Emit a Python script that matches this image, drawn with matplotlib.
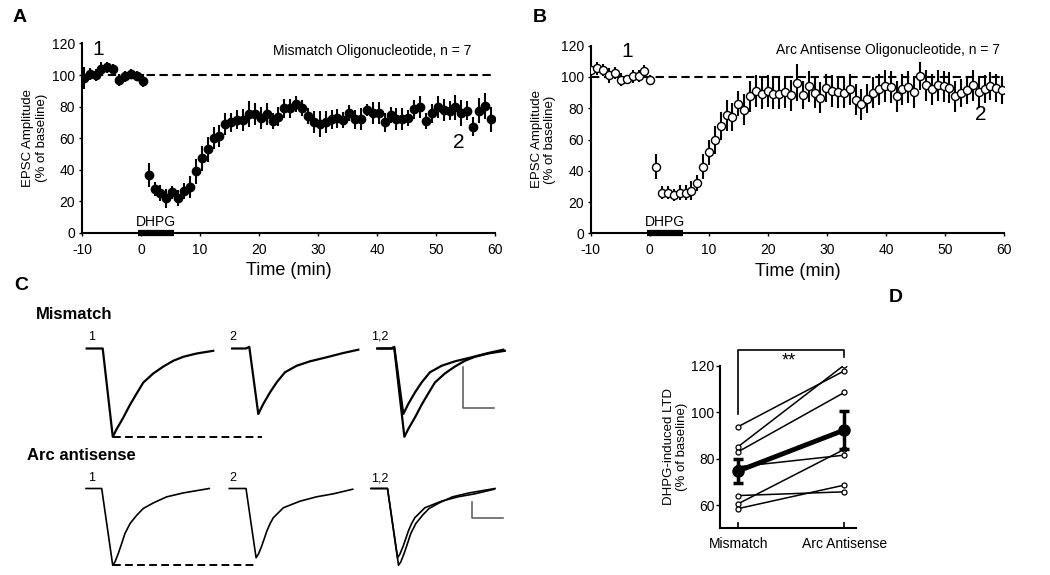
import matplotlib.pyplot as plt
import numpy as np

plt.rcParams['font.family'] = ['Liberation Sans', 'DejaVu Sans']
plt.rcParams['axes.unicode_minus'] = False

W, H = 1050, 575

# ---- panel A: mismatch oligonucleotide, EPSC amplitude (% of baseline)
time_a = np.concatenate([np.arange(-9.7, 0.5, 1.0), np.arange(1.3, 59.5, 1.0)])
amp_a = [97.9, 100.6, 100, 104, 105, 104, 97, 99.4, 101, 99.4, 96.4,
         36.8, 27.8, 25.3, 22, 25.7, 22, 26.7, 29, 39, 47.4,
         53, 60, 61.5, 69, 70, 71.6, 71.6, 75.4, 75.4, 72.6,
         75.4, 71, 73.7, 79, 79, 81.7, 79, 74, 70.5, 69,
         70.5, 72, 72.6, 71.6, 75.8, 72, 72, 78, 76, 75.8,
         70, 74.7, 72, 72, 72.6, 78.3, 79.6, 71, 75.8, 79.6,
         78, 77.5, 79.6, 76, 77.5, 67.4, 77.5, 80.4, 72]
err_a = [7, 4, 4, 4, 3.5, 3, 4, 3.5, 3, 3, 4,
         7.5, 4.5, 5, 6, 4, 5, 5, 7, 8, 8,
         8, 7, 7, 7, 6, 6, 7, 8, 7, 7,
         7, 5, 6, 6, 6, 5, 5, 5, 7, 8,
         7, 6, 6, 5, 5, 6, 7, 4, 7, 7,
         6, 5, 7, 7, 5, 6, 7, 5, 6, 7,
         7, 6, 8, 8, 6, 6, 8, 8, 8]

# ---- panel B: Arc antisense oligonucleotide
time_b = np.concatenate([np.arange(-9.9, 0.5, 1.0), 1.1 + np.arange(60) * 0.993])
amp_b = [104.5, 105.5, 104.5, 101, 102.6, 98.3, 98.5, 100.4, 100.6, 103.6, 98.3,
         42.6, 26, 26, 24.5, 26, 26, 27.2, 32.3, 42.6, 52,
         59.6, 68.5, 75.5, 74.5, 83, 79, 87.6, 91, 89.4, 91,
         89.4, 89.4, 90.4, 88.3, 96.4, 88.3, 94, 90, 86.8, 93,
         91, 90.4, 90, 92, 85.5, 82.6, 86.2, 90, 92, 94.3,
         93.6, 87.6, 92, 93.6, 90.4, 100.4, 94.7, 92, 94.7, 94,
         93.2, 87.6, 90, 91.5, 94.7, 90.4, 92.5, 94, 93.2, 91.5]
err_b = [5, 4, 4, 5, 4, 4, 3, 4, 4, 4, 3,
         8, 4, 4, 4, 5, 5, 6, 5, 8, 8,
         9, 9, 10, 9, 8, 10, 10, 10, 10, 10,
         10, 10, 10, 10, 12, 9, 10, 10, 10, 9,
         10, 10, 10, 10, 10, 10, 9, 10, 10, 10,
         10, 10, 10, 10, 10, 9, 10, 10, 10, 10,
         10, 10, 9, 9, 10, 10, 9, 9, 9, 9]

# ---- panel C: example EPSC traces (ms, pA)
mm1_ms = [-10.3, 0, 6.5, 9.0, 13.3, 17.6, 21.9, 26.2, 32.6, 39.1, 45.5, 52.0, 60.6, 71.3]
mm1_pa = [0, 0, -107.7, -98.3, -84.2, -68.7, -54.9, -41.5, -30.5, -22.0, -15.0, -10.1, -6.1, -2.8]
mm2_ms = [-11.4, -2.1, 0, 5.8, 9.0, 13.4, 17.7, 23.0, 30.6, 39.2, 49.9, 60.6, 70.3]
mm2_pa = [0, 0, 2, -79.9, -67.7, -53.4, -41.2, -29.0, -21.0, -15.6, -10.7, -5.5, -1.5]
arc1_ms = [-10.1, 0, 7.1, 8.6, 10.7, 12.9, 15.0, 18.3, 22.6, 26.8, 33.3, 41.9, 52.6, 69.4]
arc1_pa = [0, 0, -93.6, -89.5, -79.3, -67.1, -54.9, -42.7, -32.6, -24.4, -17.6, -10.2, -5.4, 0]
arc2_ms = [-10.8, 0, 6.5, 8.0, 10.1, 12.0, 13.4, 15.5, 17.6, 24.1, 34.8, 45.6, 56.3, 68.8]
arc2_pa = [0, 0, -84.5, -80.0, -70.4, -60.0, -52.1, -43.0, -35.7, -23.5, -15.5, -10.1, -6.5, -0.9]

# ---- panel D: DHPG-induced LTD per cell (% of baseline)
groups = ['Mismatch', 'Arc Antisense']
ltd_mismatch = [93.8, 85.2, 83.0, 76.5, 64.1, 60.6, 58.5]
ltd_antisense = [117.8, 120.3, 108.5, 81.5, 65.7, 84.0, 68.6]
ltd_mean = [74.7, 92.3]
ltd_sem = [5.3, 8.3]


def px_box(left, top, w, h):
    return [left / W, 1 - (top + h) / H, w / W, h / H]


fig = plt.figure(figsize=(10.5, 5.75), dpi=100)


def timecourse(ax, t, amp, err, face, note, lab1, lab2):
    ax.axhline(100, color='k', lw=1.5, dashes=(4, 2.2), zorder=1)
    ax.errorbar(t, amp, yerr=err, fmt='o', color='k', ms=6 if face == 'k' else 5.8,
                mfc=face, mec='k', mew=1, elinewidth=1.5, capsize=0, zorder=3)
    ax.plot([-0.5, 5.6], [0, 0], color='k', lw=4.5, solid_capstyle='butt',
            clip_on=False, zorder=5)
    ax.text(2.6, 2.5, 'DHPG', ha='center', va='bottom', fontsize=10)
    ax.text(note[0], note[1], note[2], ha='right', va='center', fontsize=10)
    ax.text(lab1[0], lab1[1], '1', ha='center', va='center', fontsize=15)
    ax.text(lab2[0], lab2[1], '2', ha='center', va='center', fontsize=15)
    ax.set_xlim(-10, 60)
    ax.set_ylim(0, 120)
    ax.set_xticks(np.arange(-10, 61, 10))
    ax.set_yticks(np.arange(0, 121, 20))
    ax.spines[['top', 'right']].set_visible(False)
    ax.spines[['left', 'bottom']].set_linewidth(1.5)
    ax.tick_params(axis='x', labelsize=10, length=2, width=1, pad=5)
    ax.tick_params(axis='y', labelsize=10, length=2, width=1, pad=3)
    ax.set_xlabel('Time (min)', fontsize=13, labelpad=4)
    ax.set_ylabel('EPSC Amplitude\n(% of baseline)', fontsize=9.5, labelpad=3)


ax_a = fig.add_axes(px_box(82, 43.5, 413, 189.5))
timecourse(ax_a, time_a, amp_a, err_a, 'k',
           (56, 115, 'Mismatch Oligonucleotide, n = 7'), (-7.3, 116), (53.8, 57))

ax_b = fig.add_axes(px_box(590.7, 45.7, 413.3, 187.6))
timecourse(ax_b, time_b, amp_b, err_b, 'white',
           (59.3, 117, 'Arc Antisense Oligonucleotide, n = 7'), (-3.9, 116), (56, 76))

# panel C: six small trace axes, same ms/pA scale everywhere
ms_per_px, pa_per_px = 0.645, 1.22
t_lo, t_hi, v_lo, v_hi = -12, 75, -112, 8


def trace_ax(onset_x, base_y):
    left = onset_x - (0 - t_lo) / ms_per_px
    top = base_y - v_hi / pa_per_px
    ax = fig.add_axes(px_box(left, top, (t_hi - t_lo) / ms_per_px, (v_hi - v_lo) / pa_per_px))
    ax.set_xlim(t_lo, t_hi)
    ax.set_ylim(v_lo, v_hi)
    ax.axis('off')
    return ax


rows = [
    dict(base=348.5, onsets=(102.7, 249.3, 394.3), t1=(mm1_ms, mm1_pa), t2=(mm2_ms, mm2_pa),
         lw=1.6, lab_y=14.4, lab_x=(-6.9, -10.5, -9.2), dash_end=103,
         bar=(44.3, -22.6, -72.6, 64.3)),
    dict(base=488.5, onsets=(101.7, 246.0, 387.5), t1=(arc1_ms, arc1_pa), t2=(arc2_ms, arc2_pa),
         lw=1.2, lab_y=12.4, lab_x=(-6.3, -8.4, -4.8), dash_end=100,
         bar=(54.5, -16, -36, 74.5)),
]

for row in rows:
    axs = [trace_ax(x, row['base']) for x in row['onsets']]
    (x1, y1), (x2, y2) = row['t1'], row['t2']
    axs[0].plot(x1, y1, color='k', lw=row['lw'])
    axs[1].plot(x2, y2, color='k', lw=row['lw'])
    axs[2].plot(x1, y1, color='k', lw=row['lw'])
    axs[2].plot(x2, y2, color='k', lw=row['lw'])
    i_min = int(np.argmin(y1))
    axs[0].plot([x1[i_min], row['dash_end']], [y1[i_min], y1[i_min]], color='k',
                lw=1.4, dashes=(4, 2.2), clip_on=False)
    for ax, lab, lx in zip(axs, ['1', '2', '1,2'], row['lab_x']):
        ax.text(lx, row['lab_y'], lab, ha='center', va='center', fontsize=9)
    bx, by_top, by_bot, bx_end = row['bar']
    axs[2].plot([bx, bx, bx_end], [by_top, by_bot, by_bot], color='#555555', lw=1.1)

fig.text(36 / W, 1 - 315 / H, 'Mismatch', fontsize=12, fontweight='bold', va='center')
fig.text(27 / W, 1 - 455 / H, 'Arc antisense', fontsize=12, fontweight='bold', va='center')

# panel D
ax_d = fig.add_axes(px_box(720, 365.7, 136, 162.6))
xpos = np.arange(len(groups))
for lo, hi in zip(ltd_mismatch, ltd_antisense):
    ax_d.plot(xpos, [lo, hi], color='k', lw=1.1, marker='o', ms=3.6,
              mfc='white', mec='k', mew=0.9, zorder=2)
ax_d.errorbar(xpos, ltd_mean, yerr=ltd_sem, color='k', lw=3.5, marker='o', ms=8,
              elinewidth=2.5, capsize=3.5, capthick=2.5, zorder=4)
ax_d.plot([0, 0, 1, 1], [99.3, 126.8, 126.8, 123.7], color='k', lw=1.2, clip_on=False)
ax_d.text(0.48, 122.2, '**', ha='center', va='center', fontsize=13)
ax_d.set_xlim(-0.173, 1.11)
ax_d.set_ylim(50, 120)
ax_d.set_xticks(xpos)
ax_d.set_xticklabels(groups)
ax_d.set_yticks([60, 80, 100, 120])
ax_d.spines[['top', 'right']].set_visible(False)
ax_d.spines[['left', 'bottom']].set_linewidth(1.5)
ax_d.tick_params(axis='x', direction='in', length=4, width=1.2, labelsize=10, pad=6)
ax_d.tick_params(axis='y', length=3, width=1, labelsize=10, pad=1)
ax_d.set_ylabel('DHPG-induced LTD\n(% of baseline)', fontsize=9.5, labelpad=2)

# panel letters
for letter, x, y in [('A', 13, 9), ('B', 533, 9), ('C', 14, 277), ('D', 889, 289)]:
    fig.text(x / W, 1 - y / H, letter, fontsize=14, fontweight='bold', va='top')

fig.savefig('out.png', dpi=100)
